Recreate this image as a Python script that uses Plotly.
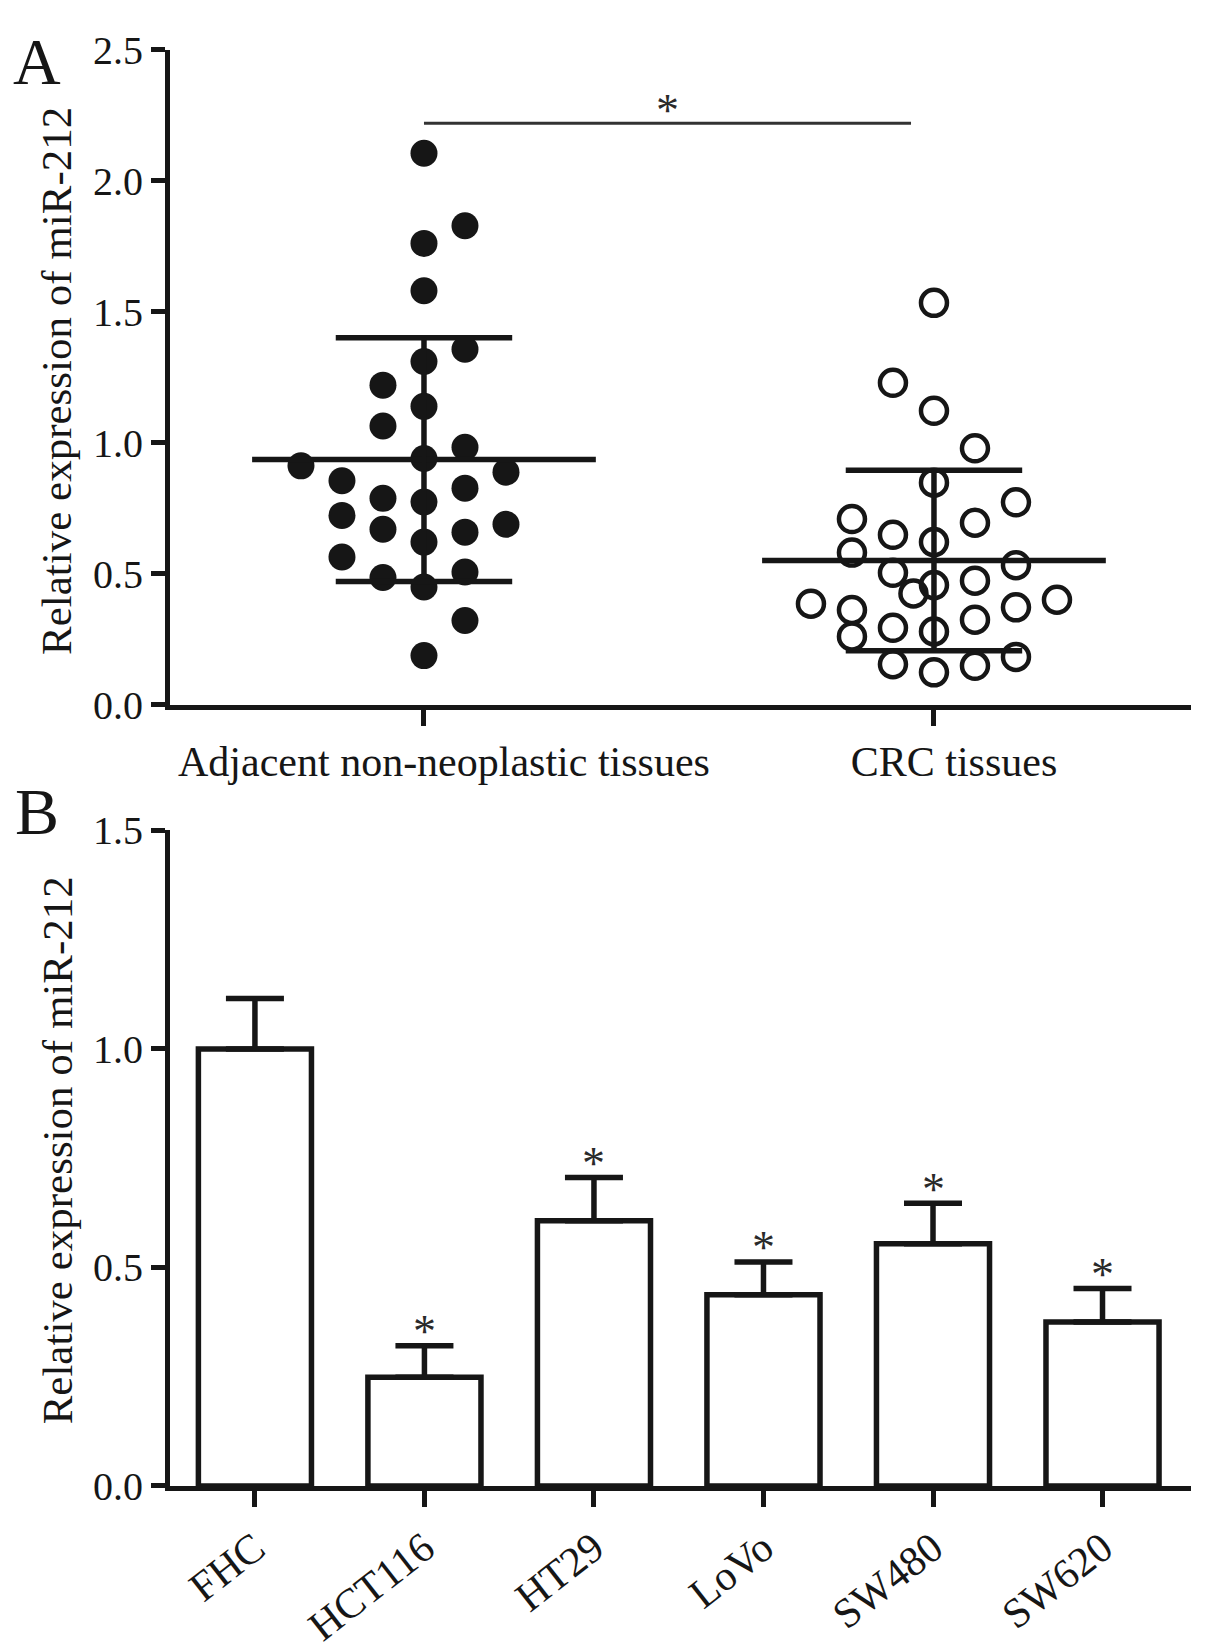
import numpy as np
import plotly.graph_objects as go

# Panel A: relative miR-212 per tissue sample
groups_a = ["Adjacent non-neoplastic tissues", "CRC tissues"]
adjacent_vals = [2.105, 1.828, 1.761, 1.580, 1.357, 1.310, 1.220, 1.139, 1.064, 0.983,
                 0.940, 0.912, 0.888, 0.855, 0.827, 0.788, 0.774, 0.723, 0.689, 0.670,
                 0.659, 0.621, 0.564, 0.507, 0.486, 0.450, 0.322, 0.188]
# swarm column of each point (0 = centre column)
adjacent_slot = [0, 1, 0, 0, 1, 0, -1, 0, -1, 1,
                 0, -3, 2, -2, 1, -1, 0, -2, 2, -1,
                 1, 0, -2, 1, -1, 0, 1, 0]
crc_vals = [1.534, 1.229, 1.122, 0.979, 0.848, 0.773, 0.709, 0.695, 0.649, 0.621,
            0.581, 0.533, 0.504, 0.457, 0.474, 0.425, 0.386, 0.401, 0.362, 0.372,
            0.325, 0.294, 0.280, 0.261, 0.183, 0.155, 0.149, 0.124]
crc_slot = [0, -1, 0, 1, 0, 2, -2, 1, -1, 0,
            -2, 2, -1, 0, 1, -0.5, -3, 3, -2, 2,
            1, -1, 0, -2, 2, -1, 1, 0]
sig_a = "*"

# Panel B: cell lines, mean and SD
cell_lines = ["FHC", "HCT116", "HT29", "LoVo", "SW480", "SW620"]
cell_mean = [1.0, 0.249, 0.607, 0.4375, 0.554, 0.375]
cell_err = [0.115, 0.072, 0.099, 0.075, 0.093, 0.077]
cell_star = ["", "*", "*", "*", "*", "*"]

FONT = "Liberation Serif"
INK = "#161616"
W, H = 1205, 1650
SLOT = 0.0804

fig = go.Figure()

# dots
for gi, (vals, slots) in enumerate([(adjacent_vals, adjacent_slot), (crc_vals, crc_slot)]):
    xs = gi + np.array(slots) * SLOT
    if gi == 0:
        mk = dict(symbol="circle", size=27, color=INK)
    else:
        mk = dict(symbol="circle-open", size=26, color=INK, line=dict(width=4.5))
    fig.add_trace(go.Scatter(x=xs, y=vals, mode="markers", marker=mk,
                             xaxis="x", yaxis="y", showlegend=False))

# mean +/- SD on top of the dots
for gi, vals in enumerate([adjacent_vals, crc_vals]):
    m = np.mean(vals)
    s = np.std(vals, ddof=1)
    lx = [gi - 0.337, gi + 0.337, None, gi - 0.173, gi + 0.173, None,
          gi, gi, None, gi - 0.173, gi + 0.173]
    ly = [m, m, None, m + s, m + s, None, m - s, m + s, None, m - s, m - s]
    fig.add_trace(go.Scatter(x=lx, y=ly, mode="lines", line=dict(color=INK, width=5.5),
                             xaxis="x", yaxis="y", showlegend=False, hoverinfo="skip"))

# significance bracket
fig.add_trace(go.Scatter(x=[0, 0.955], y=[2.219, 2.219], mode="lines",
                         line=dict(color="#333333", width=3),
                         xaxis="x", yaxis="y", showlegend=False, hoverinfo="skip"))

# bars
fig.add_trace(go.Bar(x=cell_lines, y=cell_mean, width=0.667,
                     marker=dict(color="white", line=dict(color=INK, width=5.5)),
                     error_y=dict(type="data", array=cell_err, arrayminus=[0] * len(cell_err),
                                  symmetric=False, color=INK, thickness=5.5, width=29),
                     xaxis="x2", yaxis="y2", showlegend=False))

axis_style = dict(showline=True, linewidth=5, linecolor=INK, ticks="outside",
                  tickwidth=5, tickcolor=INK, showgrid=False, zeroline=False)
num_font = dict(family=FONT, size=40, color=INK)
cat_font = dict(family=FONT, size=42, color=INK)
star_font = dict(family=FONT, size=46, color="#2a2a2a")

xdom = [170 / W, 1191 / W]
fig.update_layout(
    width=W, height=H,
    margin=dict(l=0, r=0, t=0, b=0),
    paper_bgcolor="white", plot_bgcolor="white",
    font=dict(family=FONT, color=INK),
    xaxis=dict(domain=xdom, anchor="y", range=[-0.498, 1.504], tickvals=[0, 1],
               ticktext=groups_a, ticklen=16, ticklabelshift=20, tickfont=cat_font,
               **axis_style),
    yaxis=dict(domain=[(H - 702) / H, (H - 28.5) / H], anchor="x", range=[0, 2.5],
               tickvals=[0, 0.5, 1.0, 1.5, 2.0, 2.5], tickformat=".1f", ticklen=14,
               tickfont=num_font, **axis_style),
    xaxis2=dict(domain=xdom, anchor="y2", range=[-0.501, 5.522], tickangle=-38,
                ticklen=16, tickfont=cat_font, **axis_style),
    yaxis2=dict(domain=[(H - 1505) / H, (H - 831) / H], anchor="x2", range=[0, 1.5],
                tickvals=[0, 0.5, 1.0, 1.5], tickformat=".1f", ticklen=14,
                tickfont=num_font, **axis_style),
)

ctr = dict(xanchor="center", yanchor="middle", showarrow=False)
ann = [
    dict(text="A", x=37 / W, y=1 - 41 / H, xref="paper", yref="paper",
         font=dict(family=FONT, size=66, color=INK), **ctr),
    dict(text="B", x=37 / W, y=1 - 812 / H, xref="paper", yref="paper",
         font=dict(family=FONT, size=66, color=INK), **ctr),
    dict(text="Relative expression of miR-212", x=57 / W, y=1 - 369 / H,
         xref="paper", yref="paper", textangle=-90,
         font=dict(family=FONT, size=43, color=INK), **ctr),
    dict(text="Relative expression of miR-212", x=57 / W, y=1 - 1160 / H,
         xref="paper", yref="paper", textangle=-90,
         font=dict(family=FONT, size=43, color=INK), **ctr),
    dict(text=sig_a, x=0.4775, y=2.219, xref="x", yref="y", yshift=13,
         font=star_font, **ctr),
]
for name, m, e, st in zip(cell_lines, cell_mean, cell_err, cell_star):
    if st:
        ann.append(dict(text=st, x=name, y=m + e, xref="x2", yref="y2", yshift=14,
                        font=star_font, **ctr))
fig.update_layout(annotations=ann)

fig.write_html("out.html", config={"displayModeBar": False},
               post_script="document.body.style.margin='0px';")
